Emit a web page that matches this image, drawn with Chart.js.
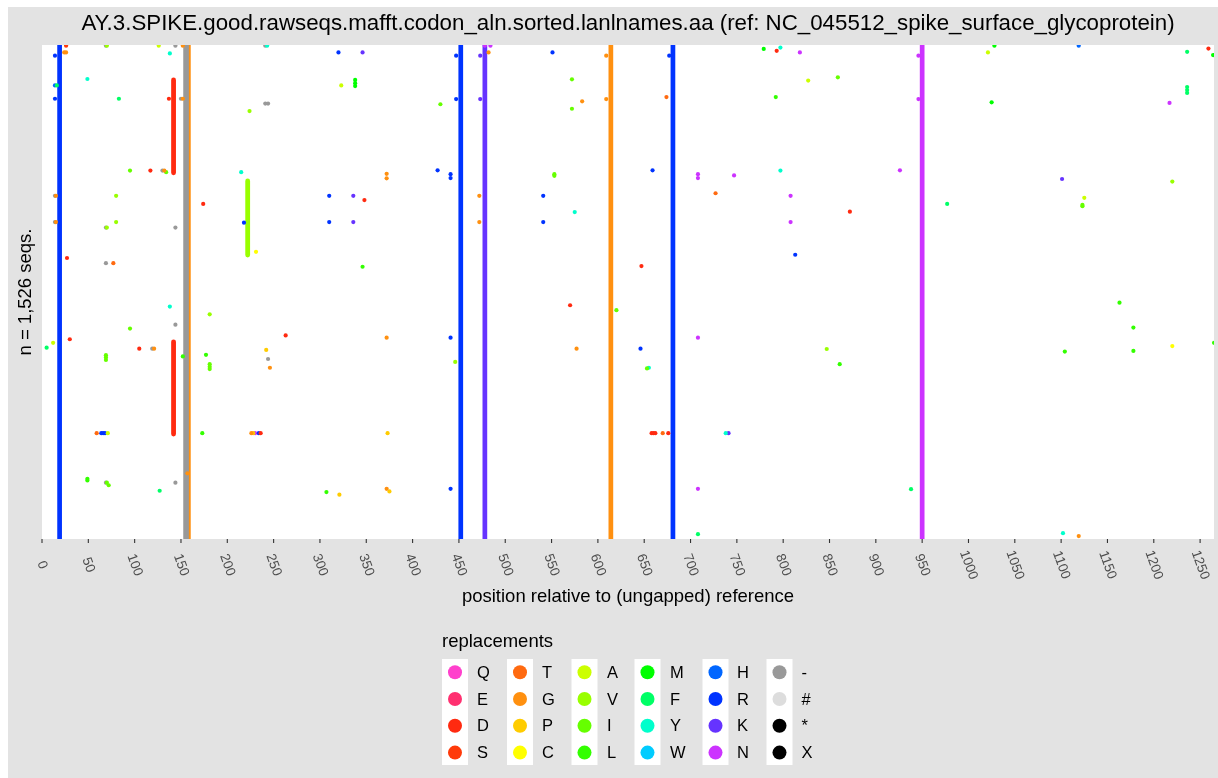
<!DOCTYPE html>
<html>
<head>
<meta charset="utf-8">
<script src="https://cdn.jsdelivr.net/npm/chart.js@4.4.0/dist/chart.umd.min.js"></script>
<style>
    html, body { margin: 0; padding: 0; background: #fff; }
    #wrap { position: relative; width: 1218px; height: 778px; }
</style>
</head>
<body>
<div id="wrap"><canvas id="chart"></canvas></div>
<script>
// replacement letters and their colours (legend order, column by column)
const letters = ['Q', 'E', 'D', 'S', 'T', 'G', 'P', 'C', 'A', 'V', 'I', 'L', 'M', 'F', 'Y', 'W', 'H', 'R', 'K', 'N', '-', '#', '*', 'X'];
const letterColors = ['#FF40CC', '#FF3070', '#FF2A10', '#FF3A0A', '#FF6A10', '#FF9010', '#FFCC00', '#FFFF00',
    '#CCFF00', '#99FF00', '#66FF00', '#33FF00', '#00FF00', '#00FF66', '#00FFCC', '#00CCFF',
    '#0066FF', '#0033FF', '#6633FF', '#CC33FF', '#999999', '#DDDDDD', '#000000', '#000000'];

const nSeqs = 1526;
const xTickLabels = [0, 50, 100, 150, 200, 250, 300, 350, 400, 450, 500, 550, 600, 650, 700, 750, 800, 850, 900, 950, 1000, 1050, 1100, 1150, 1200, 1250];

// positions mutated in (almost) every sequence
const fullCols = [19, 155, 156, 158, 452, 478, 614, 681, 950];
const fullColLetters = ['R', '-', '-', 'G', 'R', 'K', 'G', 'R', 'N'];

// blocks of consecutive sequences sharing a replacement
const segPos = [142, 142, 222];
const segFrom = [108, 917, 420];
const segTo = [395, 1202, 649];
const segLetters = ['D', 'D', 'V'];

// single replacements: [position, sequence row]
const dotsD = [[137, 166], [117, 388], [174, 491], [348, 479], [27, 658], [30, 909], [105, 938], [263, 897], [570, 804], [647, 683], [793, 18], [872, 515], [1259, 11], [236, 1199], [658, 1199], [660, 1199], [662, 1199], [676, 1199]];
const dotsS = [[26, 2]];
const dotsT = [[77, 674], [674, 161], [727, 458], [59, 1199], [670, 1199]];
const dotsG = [[24, 23], [26, 23], [152, 2], [482, 23], [609, 33], [609, 167], [583, 174], [372, 398], [372, 412], [472, 466], [472, 547], [15, 466], [15, 547], [152, 166], [132, 388], [372, 904], [121, 938], [246, 997], [577, 938], [1119, 1517], [372, 1371], [157, 1323], [226, 1199]];
const dotsP = [[242, 942], [373, 1199], [321, 1389], [375, 1379], [228, 1199]];
const dotsC = [[231, 639], [1220, 930]];
const dotsA = [[126, 2], [323, 125], [827, 110], [12, 920], [71, 1199], [1125, 472], [1021, 23]];
const dotsV = [[70, 2], [224, 204], [80, 466], [80, 547], [70, 564], [181, 832], [446, 979], [847, 939], [1220, 422]];
const dotsI = [[95, 388], [134, 393], [95, 876], [69, 958], [69, 965], [69, 973], [430, 183], [572, 106], [572, 197], [553, 399], [553, 404], [620, 819], [653, 999], [859, 100], [72, 1360], [70, 1352], [1123, 494], [1123, 498], [181, 986], [181, 994], [181, 1001]];
const dotsL = [[177, 957], [173, 1199], [152, 962], [49, 1340], [49, 1345], [307, 1381], [346, 685], [792, 161], [1104, 947], [1163, 796], [1178, 873], [1178, 945], [1265, 920], [861, 986]];
const dotsM = [[338, 108], [338, 118], [338, 127], [779, 12], [1028, 2], [1025, 177], [1264, 31]];
const dotsF = [[83, 166], [5, 935], [127, 1377], [938, 1372], [977, 491], [1236, 21], [1236, 130], [1236, 139], [1236, 148], [708, 1511], [16, 125]];
const dotsY = [[138, 26], [49, 105], [215, 393], [243, 2], [138, 808], [575, 516], [797, 8], [797, 388], [738, 1199], [1102, 1508], [655, 997]];
const dotsH = [[14, 125], [1119, 2]];
const dotsR = [[14, 33], [14, 166], [320, 23], [551, 23], [447, 33], [447, 167], [677, 33], [310, 466], [310, 547], [218, 549], [427, 387], [441, 399], [441, 411], [659, 387], [541, 466], [541, 547], [813, 648], [441, 904], [646, 938], [441, 1371], [64, 1199], [66, 1199], [68, 1199], [234, 1199]];
const dotsK = [[346, 23], [473, 33], [473, 167], [336, 466], [336, 547], [1101, 414], [741, 1199]];
const dotsN = [[478, 2], [484, 2], [818, 23], [946, 33], [946, 167], [708, 399], [708, 411], [747, 403], [808, 466], [808, 547], [1217, 179], [926, 387], [708, 904], [708, 1371], [230, 1199]];
const dotsGap = [[69, 2], [144, 2], [241, 2], [241, 181], [244, 181], [130, 388], [14, 466], [14, 547], [69, 564], [144, 564], [69, 674], [144, 864], [119, 938], [244, 970], [144, 1352], [69, 1352], [150, 166]];

const dotsByLetter = {
    D: dotsD, S: dotsS, T: dotsT, G: dotsG, P: dotsP, C: dotsC, A: dotsA, V: dotsV, I: dotsI, L: dotsL,
    M: dotsM, F: dotsF, Y: dotsY, H: dotsH, R: dotsR, K: dotsK, N: dotsN, '-': dotsGap
};

function colorOf(letter) {
    return letterColors[letters.indexOf(letter)];
}

const datasets = [];

fullCols.forEach((p, i) => {
    datasets.push({
        data: [{ x: p, y: 0 }, { x: p, y: nSeqs }],
        showLine: true,
        borderColor: colorOf(fullColLetters[i]),
        borderWidth: 4.7,
        pointRadius: 0,
        order: 3
    });
});

segPos.forEach((p, i) => {
    datasets.push({
        data: [{ x: p, y: segFrom[i] }, { x: p, y: segTo[i] }],
        showLine: true,
        borderColor: colorOf(segLetters[i]),
        borderWidth: 4.8,
        borderCapStyle: 'round',
        pointRadius: 0,
        order: 2
    });
});

Object.keys(dotsByLetter).forEach(letter => {
    datasets.push({
        data: dotsByLetter[letter].map(d => ({ x: d[0], y: d[1] })),
        backgroundColor: colorOf(letter),
        borderWidth: 0,
        pointRadius: 2.1,
        order: 1
    });
});

const FONT = '"Liberation Sans", Arial, Helvetica, sans-serif';

const decor = {
    id: 'decor',
    beforeDraw(chart) {
        const ctx = chart.ctx;
        const a = chart.chartArea;
        ctx.save();
        ctx.fillStyle = '#ffffff';
        ctx.fillRect(0, 0, chart.width, chart.height);
        ctx.fillStyle = '#E3E3E3';
        ctx.fillRect(8, 7, chart.width - 8, chart.height - 7);
        ctx.fillStyle = '#ffffff';
        ctx.fillRect(a.left, a.top, a.right - a.left, a.bottom - a.top);
        ctx.restore();
    },
    afterDraw(chart) {
        const ctx = chart.ctx;
        const a = chart.chartArea;
        const xs = chart.scales.x;
        ctx.save();

        // x ticks and rotated labels
        ctx.strokeStyle = '#333333';
        ctx.lineWidth = 1.1;
        xTickLabels.forEach(v => {
            const px = xs.getPixelForValue(v);
            ctx.beginPath();
            ctx.moveTo(px, a.bottom);
            ctx.lineTo(px, a.bottom + 4);
            ctx.stroke();
            ctx.save();
            ctx.translate(px, 565);
            ctx.rotate(70 * Math.PI / 180);
            ctx.fillStyle = '#4D4D4D';
            ctx.font = '13.5px ' + FONT;
            ctx.textAlign = 'center';
            ctx.textBaseline = 'middle';
            ctx.fillText(String(v), 0, 0);
            ctx.restore();
        });

        // title
        ctx.fillStyle = '#000000';
        ctx.font = '22.3px ' + FONT;
        ctx.textAlign = 'center';
        ctx.textBaseline = 'alphabetic';
        ctx.fillText('AY.3.SPIKE.good.rawseqs.mafft.codon_aln.sorted.lanlnames.aa (ref: NC_045512_spike_surface_glycoprotein)', (a.left + a.right) / 2, 30);

        // axis titles
        ctx.font = '18.5px ' + FONT;
        ctx.fillText('position relative to (ungapped) reference', (a.left + a.right) / 2, 602);
        ctx.save();
        ctx.translate(30.5, (a.top + a.bottom) / 2);
        ctx.rotate(-Math.PI / 2);
        ctx.fillText('n = 1,526 seqs.', 0, 0);
        ctx.restore();

        // legend
        ctx.textAlign = 'left';
        ctx.fillText('replacements', 442, 647);
        const colDot = [455, 520, 584.5, 647.5, 715.5, 779.5];
        const colLabel = [477, 542, 607, 670, 737, 801.5];
        const rowY = [672.3, 699, 725.8, 752.6];
        ctx.font = '16.5px ' + FONT;
        ctx.textBaseline = 'middle';
        for (let c = 0; c < 6; c++) {
            ctx.fillStyle = '#ffffff';
            ctx.fillRect(colDot[c] - 13, 659, 26, 106);
            for (let r = 0; r < 4; r++) {
                const k = c * 4 + r;
                ctx.fillStyle = letterColors[k];
                ctx.beginPath();
                ctx.arc(colDot[c], rowY[r], 7, 0, Math.PI * 2);
                ctx.fill();
                ctx.fillStyle = '#000000';
                ctx.fillText(letters[k], colLabel[c], rowY[r] + 1);
            }
        }
        ctx.restore();
    }
};

new Chart(document.getElementById('chart'), {
    type: 'scatter',
    data: { datasets: datasets },
    options: {
        responsive: true,
        maintainAspectRatio: false,
        animation: false,
        layout: { padding: { left: 42, top: 45, right: 0, bottom: 239 } },
        scales: {
            x: { type: 'linear', min: 0, max: 1265, display: false },
            y: { type: 'linear', min: 0, max: nSeqs, reverse: true, display: false }
        },
        plugins: {
            legend: { display: false },
            tooltip: { enabled: false }
        }
    },
    plugins: [decor]
});
</script>
</body>
</html>
